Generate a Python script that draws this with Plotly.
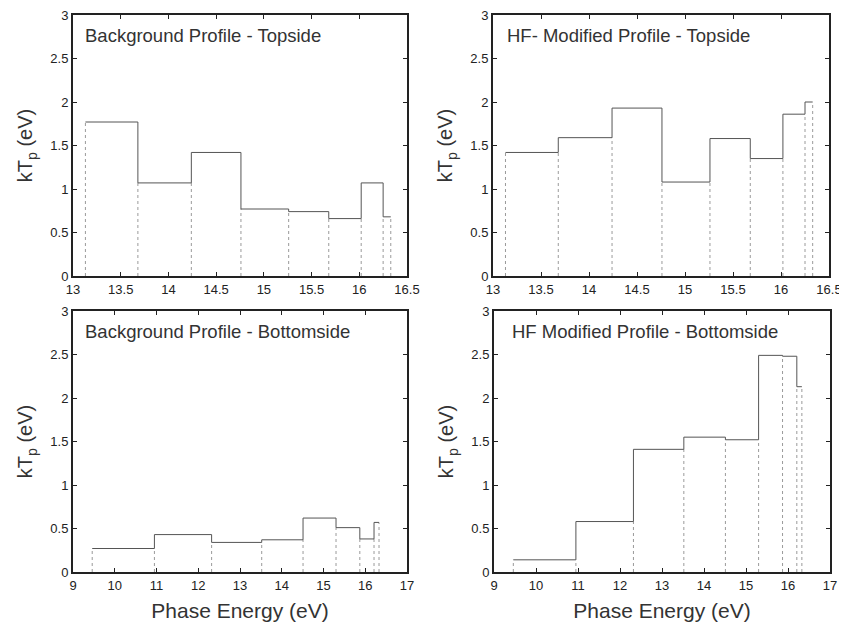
import plotly.graph_objects as go

# ---- data ----
top_edges = [13.13, 13.68, 14.24, 14.76, 15.26, 15.68, 16.02, 16.25, 16.33]
bg_top = [1.77, 1.07, 1.42, 0.77, 0.74, 0.66, 1.07, 0.68]
hf_top = [1.42, 1.59, 1.93, 1.08, 1.58, 1.35, 1.86, 2.00]

bot_edges = [9.46, 10.95, 12.32, 13.52, 14.51, 15.30, 15.87, 16.21, 16.33]
bg_bot = [0.27, 0.43, 0.34, 0.37, 0.62, 0.51, 0.38, 0.57]
hf_bot = [0.14, 0.58, 1.41, 1.55, 1.52, 2.49, 2.48, 2.13]

titles = ["Background Profile - Topside", "HF- Modified Profile - Topside",
          "Background Profile - Bottomside", "HF Modified Profile - Bottomside"]
top_xticks = [13, 13.5, 14, 14.5, 15, 15.5, 16, 16.5]
bot_xticks = [9, 10, 11, 12, 13, 14, 15, 16, 17]
yticks = [0, 0.5, 1, 1.5, 2, 2.5, 3]

FONT = "Liberation Sans, Arial, Helvetica, sans-serif"
OFF = 8  # page body margin offset
W, H = 847 - OFF, 623 - OFF

panels = [
    dict(edges=top_edges, vals=bg_top, xr=[13, 16.5], xt=top_xticks, px=(73, 407), py=(15, 276), title=titles[0], tx=0.030, xtitle=False),
    dict(edges=top_edges, vals=hf_top, xr=[13, 16.5], xt=top_xticks, px=(493, 829), py=(15, 276), title=titles[1], tx=0.036, xtitle=False),
    dict(edges=bot_edges, vals=bg_bot, xr=[9, 17], xt=bot_xticks, px=(73, 407), py=(311, 572), title=titles[2], tx=0.030, xtitle=True),
    dict(edges=bot_edges, vals=hf_bot, xr=[9, 17], xt=bot_xticks, px=(494, 830), py=(311, 572), title=titles[3], tx=0.048, xtitle=True),
]

fig = go.Figure()
layout = dict(width=W, height=H, margin=dict(l=0, r=0, t=0, b=0, autoexpand=False),
              paper_bgcolor="white", plot_bgcolor="white", showlegend=False,
              font=dict(family=FONT, color="#222"))
annotations = []

for i, p in enumerate(panels):
    n = "" if i == 0 else str(i + 1)
    xa, ya = "x" + n, "y" + n
    edges, vals = p["edges"], p["vals"]
    # dotted vertical separators
    dx, dy = [], []
    for k, e in enumerate(edges):
        if k == 0:
            h = vals[0]
        elif k == len(edges) - 1:
            h = vals[-1]
        else:
            h = min(vals[k - 1], vals[k])
        dx += [e, e, None]
        dy += [0, h, None]
    fig.add_trace(go.Scatter(x=dx, y=dy, mode="lines", xaxis=xa, yaxis=ya,
                             line=dict(color="#9a9a9a", width=1, dash="dot"), hoverinfo="skip"))
    # solid stair outline
    fig.add_trace(go.Scatter(x=edges, y=vals + [vals[-1]], mode="lines", xaxis=xa, yaxis=ya,
                             line=dict(color="#555", width=1, shape="hv"), hoverinfo="skip"))
    dom_x = [(p["px"][0] - OFF) / W, (p["px"][1] - OFF) / W]
    dom_y = [1 - (p["py"][1] - OFF) / H, 1 - (p["py"][0] - OFF) / H]
    axcommon = dict(showline=True, linecolor="#222", linewidth=2, mirror="ticks",
                    ticks="inside", ticklen=4, tickcolor="#222", tickwidth=1, automargin=False,
                    ticklabeloverflow="allow",
                    showgrid=False, zeroline=False, tickfont=dict(size=13, color="#222", family=FONT))
    xkey = "xaxis" + n
    ykey = "yaxis" + n
    layout[xkey] = dict(domain=dom_x, range=p["xr"], tickvals=p["xt"], anchor=ya, **axcommon)
    if p["xtitle"]:
        layout[xkey]["title"] = dict(text="Phase Energy (eV)", font=dict(size=21, color="#333", family=FONT), standoff=12)
    layout[ykey] = dict(domain=dom_y, range=[0, 3], tickvals=yticks, anchor=xa, **axcommon)
    layout[ykey]["title"] = dict(text="kT<sub>p</sub> (eV)", font=dict(size=20, color="#333", family=FONT), standoff=12)
    annotations.append(dict(text=p["title"], xref=xa + " domain", yref=ya + " domain",
                            x=p["tx"], y=0.92, xanchor="left", yanchor="middle", showarrow=False,
                            font=dict(size=18.5, color="#333", family=FONT)))

layout["annotations"] = annotations
fig.update_layout(**layout)
fig.write_html("out.html")
